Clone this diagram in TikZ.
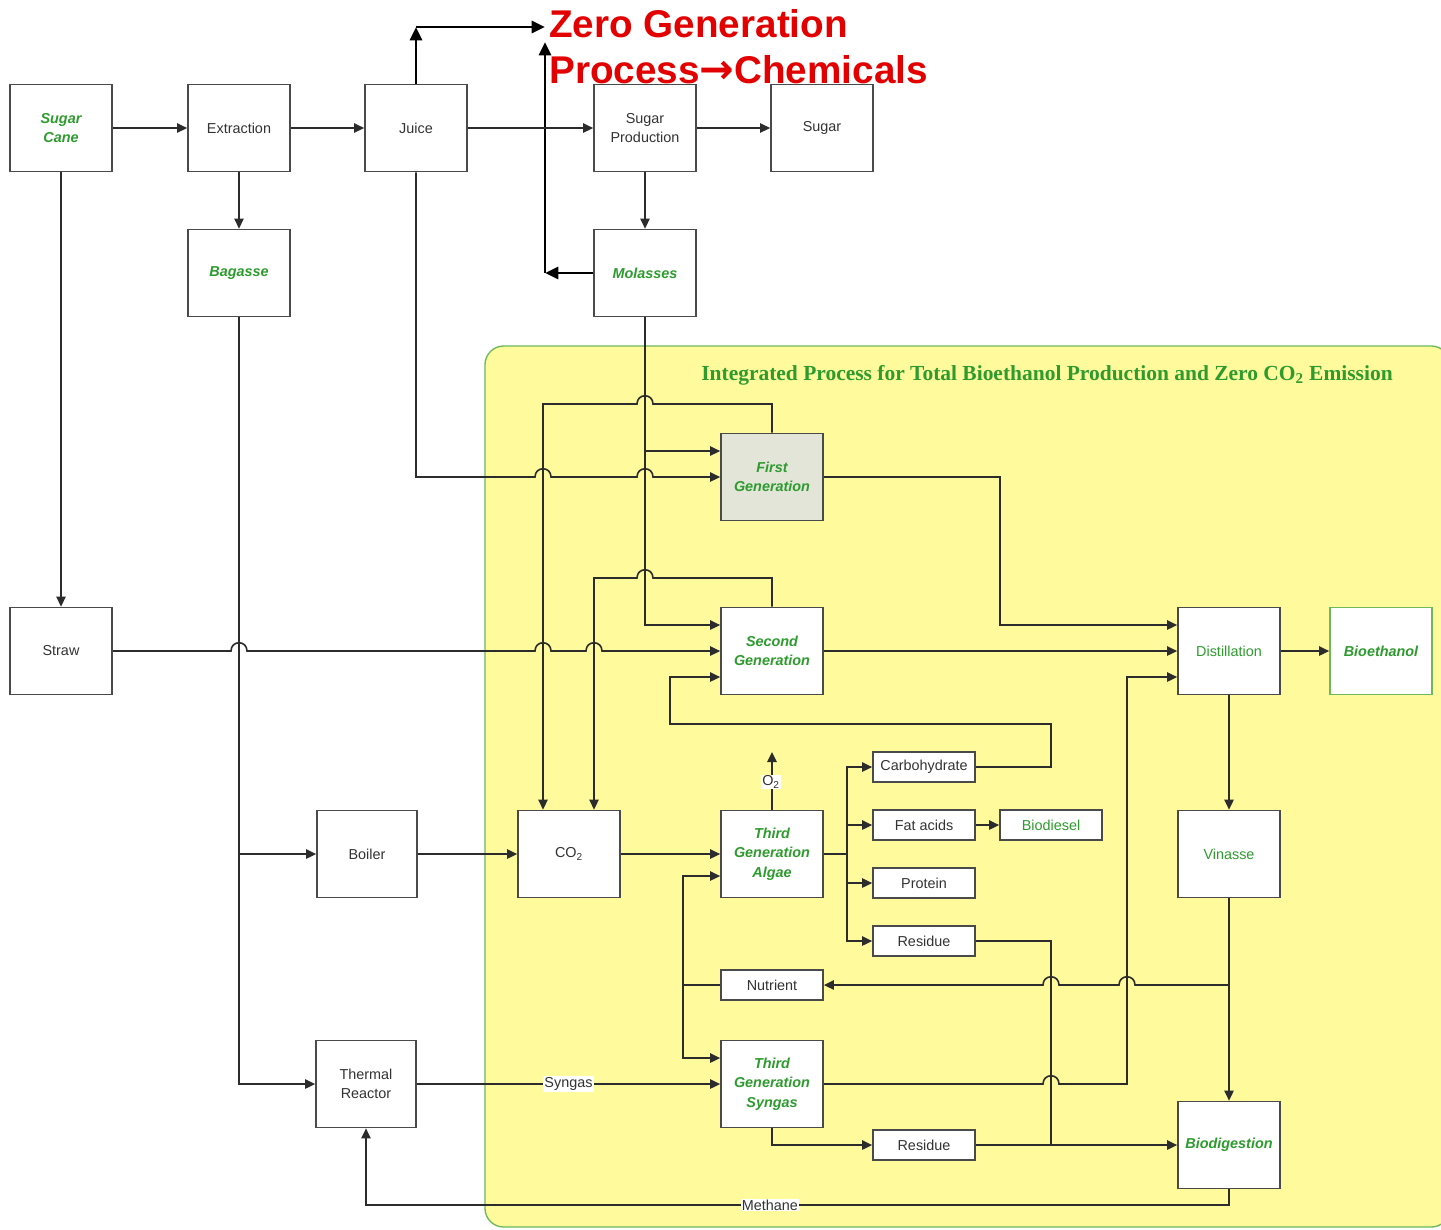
\documentclass[tikz,border=0pt]{standalone}
\usepackage{fontspec}
\setmainfont{Liberation Sans}
\newfontfamily\titlefont{Liberation Serif}
\newfontfamily\arrowfont{DejaVu Sans}
\usetikzlibrary{arrows.meta,calc}
\definecolor{txtgray}{HTML}{333333}
\definecolor{lgreen}{HTML}{2E9B2E}
\definecolor{lyellow}{HTML}{FFFA9C}
\definecolor{bordergreen}{HTML}{6DB85A}
\definecolor{linegray}{HTML}{2C2C2C}
\definecolor{boxgray}{HTML}{4A4A4A}
\definecolor{zred}{HTML}{E30000}
\definecolor{firstfill}{HTML}{E3E5D9}
\tikzset{
  box/.style={draw=boxgray, line width=1.3pt, fill=white, minimum width=76.5pt, minimum height=65.25pt, inner sep=0pt, align=center, font=\fontsize{10.8}{14.5}\selectfont, text=txtgray},
  sbox/.style={box, minimum height=22.5pt},
  gtxt/.style={text=lgreen, font=\fontsize{10.8}{14.5}\selectfont\bfseries\itshape},
  gplain/.style={text=lgreen},
  conn/.style={draw=linegray, line width=1.2pt},
  arr/.style={conn, -{Triangle[length=7.5pt,width=7pt]}},
  zarr/.style={draw=black, line width=2.2pt, -{Triangle[length=10pt,width=9pt]}},
  lbl/.style={fill=white, inner sep=0.8pt, text=txtgray, font=\fontsize{10.8}{13}\selectfont},
  hop/.style 2 args={insert path={-- ({#1-8},#2) .. controls ({#1-8},{#2-11}) and ({#1+8},{#2-11}) .. ({#1+8},#2)}},
  hopl/.style 2 args={insert path={-- ({#1+8},#2) .. controls ({#1+8},{#2-11}) and ({#1-8},{#2-11}) .. ({#1-8},#2)}},
  zgtxt/.style={text=zred, font=\fontsize{29}{34}\selectfont\bfseries, inner sep=0pt, anchor=base west}
}
\begin{document}
\begin{tikzpicture}[x=0.75pt,y=-0.75pt]
\useasboundingbox (0,0) rectangle (1441,1229);
\fill[white] (0,0) rectangle (1441,1229);
% integrated region
\draw[fill=lyellow, draw=bordergreen, line width=1pt, rounded corners=14pt] (485,346) rectangle (1450,1227);
\node[font=\titlefont\fontsize{16.1}{20}\selectfont\bfseries, text=lgreen] (title) at (1047,375) {Integrated Process for Total Bioethanol Production and Zero CO\textsubscript{2} Emission};

% nodes
\node[box,gtxt] (cane) at (61,128) {Sugar\\Cane};
\node[box] (extr) at (239,128) {Extraction};
\node[box] (juice) at (416,128) {Juice};
\node[box] (sprod) at (645,128) {Sugar\\Production};
\node[box] (sugar) at (822,128) {Sugar};
\node[box,gtxt] (bag) at (239,273) {Bagasse};
\node[box,gtxt] (mol) at (645,273) {Molasses};
\node[box] (straw) at (61,651) {Straw};
\node[box,gtxt,fill=firstfill] (first) at (772,477) {First\\Generation};
\node[box,gtxt] (second) at (772,651) {Second\\Generation};
\node[box,gplain] (dist) at (1229,651) {Distillation};
\node[box,gtxt,draw=bordergreen] (bioeth) at (1381,651) {Bioethanol};
\node[box,minimum width=75pt] (boiler) at (367,854) {Boiler};
\node[box] (co2) at (569,854) {CO\textsubscript{2}};
\node[box,gtxt] (algae) at (772,854) {Third\\Generation\\Algae};
\node[sbox] (carb) at (924,767) {Carbohydrate};
\node[sbox] (fat) at (924,825) {Fat acids};
\node[sbox,gplain] (biodiesel) at (1051,825) {Biodiesel};
\node[sbox] (prot) at (924,883) {Protein};
\node[sbox] (res1) at (924,941) {Residue};
\node[box,gplain] (vin) at (1229,854) {Vinasse};
\node[sbox] (nutr) at (772,985) {Nutrient};
\node[box,minimum width=75pt] (thermal) at (366,1084) {Thermal\\Reactor};
\node[box,gtxt] (syn) at (772,1084) {Third\\Generation\\Syngas};
\node[sbox] (res2) at (924,1145) {Residue};
\node[box,gtxt] (biodig) at (1229,1145) {Biodigestion};

% zero generation
\node[zgtxt] (zg1) at (549,37) {Zero Generation};
\node[zgtxt] (zg2) at (549,83) {Process{\arrowfont\fontsize{31}{34}\selectfont\bfseries →}Chemicals};
\coordinate (zc) at (416,27);
\coordinate (zt) at (545,27);
\coordinate (zx) at (545,42);
\draw[zarr] (juice.north) -- (zc);
\draw[zarr] (zc) -- (zt);
\draw[zarr] (mol.west) -- (mol.west -| zx);
\draw[zarr] (mol.west -| zx) -- (zx);

% helper x positions
\coordinate (c543) at (543,0);
\coordinate (c594) at (594,0);

% top row
\draw[arr] (cane.east) -- (extr.west);
\draw[arr] (extr.east) -- (juice.west);
\draw[arr] (juice.east) -- (sprod.west);
\draw[arr] (sprod.east) -- (sugar.west);
\draw[arr] (sprod.south) -- (mol.north);
\draw[arr] (extr.south) -- (bag.north);
\draw[arr] (cane.south) -- (straw.north);

% juice to first generation
\draw[arr] (juice.south) -- (416,477) [hop={543}{477}] [hop={645}{477}] -- (first.west);
% molasses
\draw[arr] (mol.south) |- ($(second.west)+(0,-26)$);
\draw[arr] ($(mol.south |- first.west)+(0,-26)$) -- ($(first.west)+(0,-26)$);
% CO2 recycle loops
\draw[arr] (first.north) -- (772,404) [hopl={645}{404}] -- (543,404) -- (c543 |- co2.north);
\draw[arr] (second.north) -- (772,578) [hopl={645}{578}] -- (594,578) -- (c594 |- co2.north);
% straw
\draw[arr] (straw.east) [hop={239}{651}] [hop={543}{651}] [hop={594}{651}] -- (second.west);
% carbohydrate to second generation
\draw[arr] (carb.east) -- (1051,767) -- (1051,724) -- (670,724) -- (670,677) -- ($(second.west)+(0,26)$);
% to distillation
\draw[arr] (first.east) -- (1000,477) |- ($(dist.west)+(0,-26)$);
\draw[arr] (second.east) -- (dist.west);
\draw[arr] (syn.east) [hop={1051}{1084}] -- (1127,1084) |- ($(dist.west)+(0,26)$);
\draw[arr] (dist.east) -- (bioeth.west);
\draw[arr] (dist.south) -- (vin.north);
\draw[arr] (vin.south) -- (biodig.north);
% nutrient
\draw[arr] (vin.south |- nutr.east) [hopl={1127}{985}] [hopl={1051}{985}] -- (nutr.east);
\draw[conn] (nutr.west) -- (683,985);
\draw[arr] (683,985) |- ($(algae.west)+(0,22)$);
\draw[arr] (683,985) |- ($(syn.west)+(0,-26)$);
% bagasse
\draw[arr] (bag.south) |- (thermal.west);
\draw[arr] (bag.south |- boiler.west) -- (boiler.west);
\draw[arr] (boiler.east) -- (co2.west);
\draw[arr] (co2.east) -- (algae.west);
% O2
\draw[arr] (algae.north) -- (772,752);
\node[lbl] (o2) at (771,782) {O\textsubscript{2}};
% algae products
\draw[conn] (algae.east) -- (847,854);
\draw[arr] (847,854) |- (carb.west);
\draw[arr] (847,854) |- (res1.west);
\draw[arr] (847,825) -- (fat.west);
\draw[arr] (847,883) -- (prot.west);
\draw[arr] (fat.east) -- (biodiesel.west);
\draw[conn] (res1.east) -| (1051,1145);
\draw[arr] (res2.east) -- (biodig.west);
\draw[arr] (syn.south) |- (res2.west);
% syngas and methane
\draw[arr] (thermal.east) -- node[lbl] (sgl) {Syngas} (syn.west);
\draw[arr] (biodig.south) -- (1229,1205) -- node[lbl, pos=0.532] (mel) {Methane} (366,1205) -- (thermal.south);
\end{tikzpicture}
\end{document}
